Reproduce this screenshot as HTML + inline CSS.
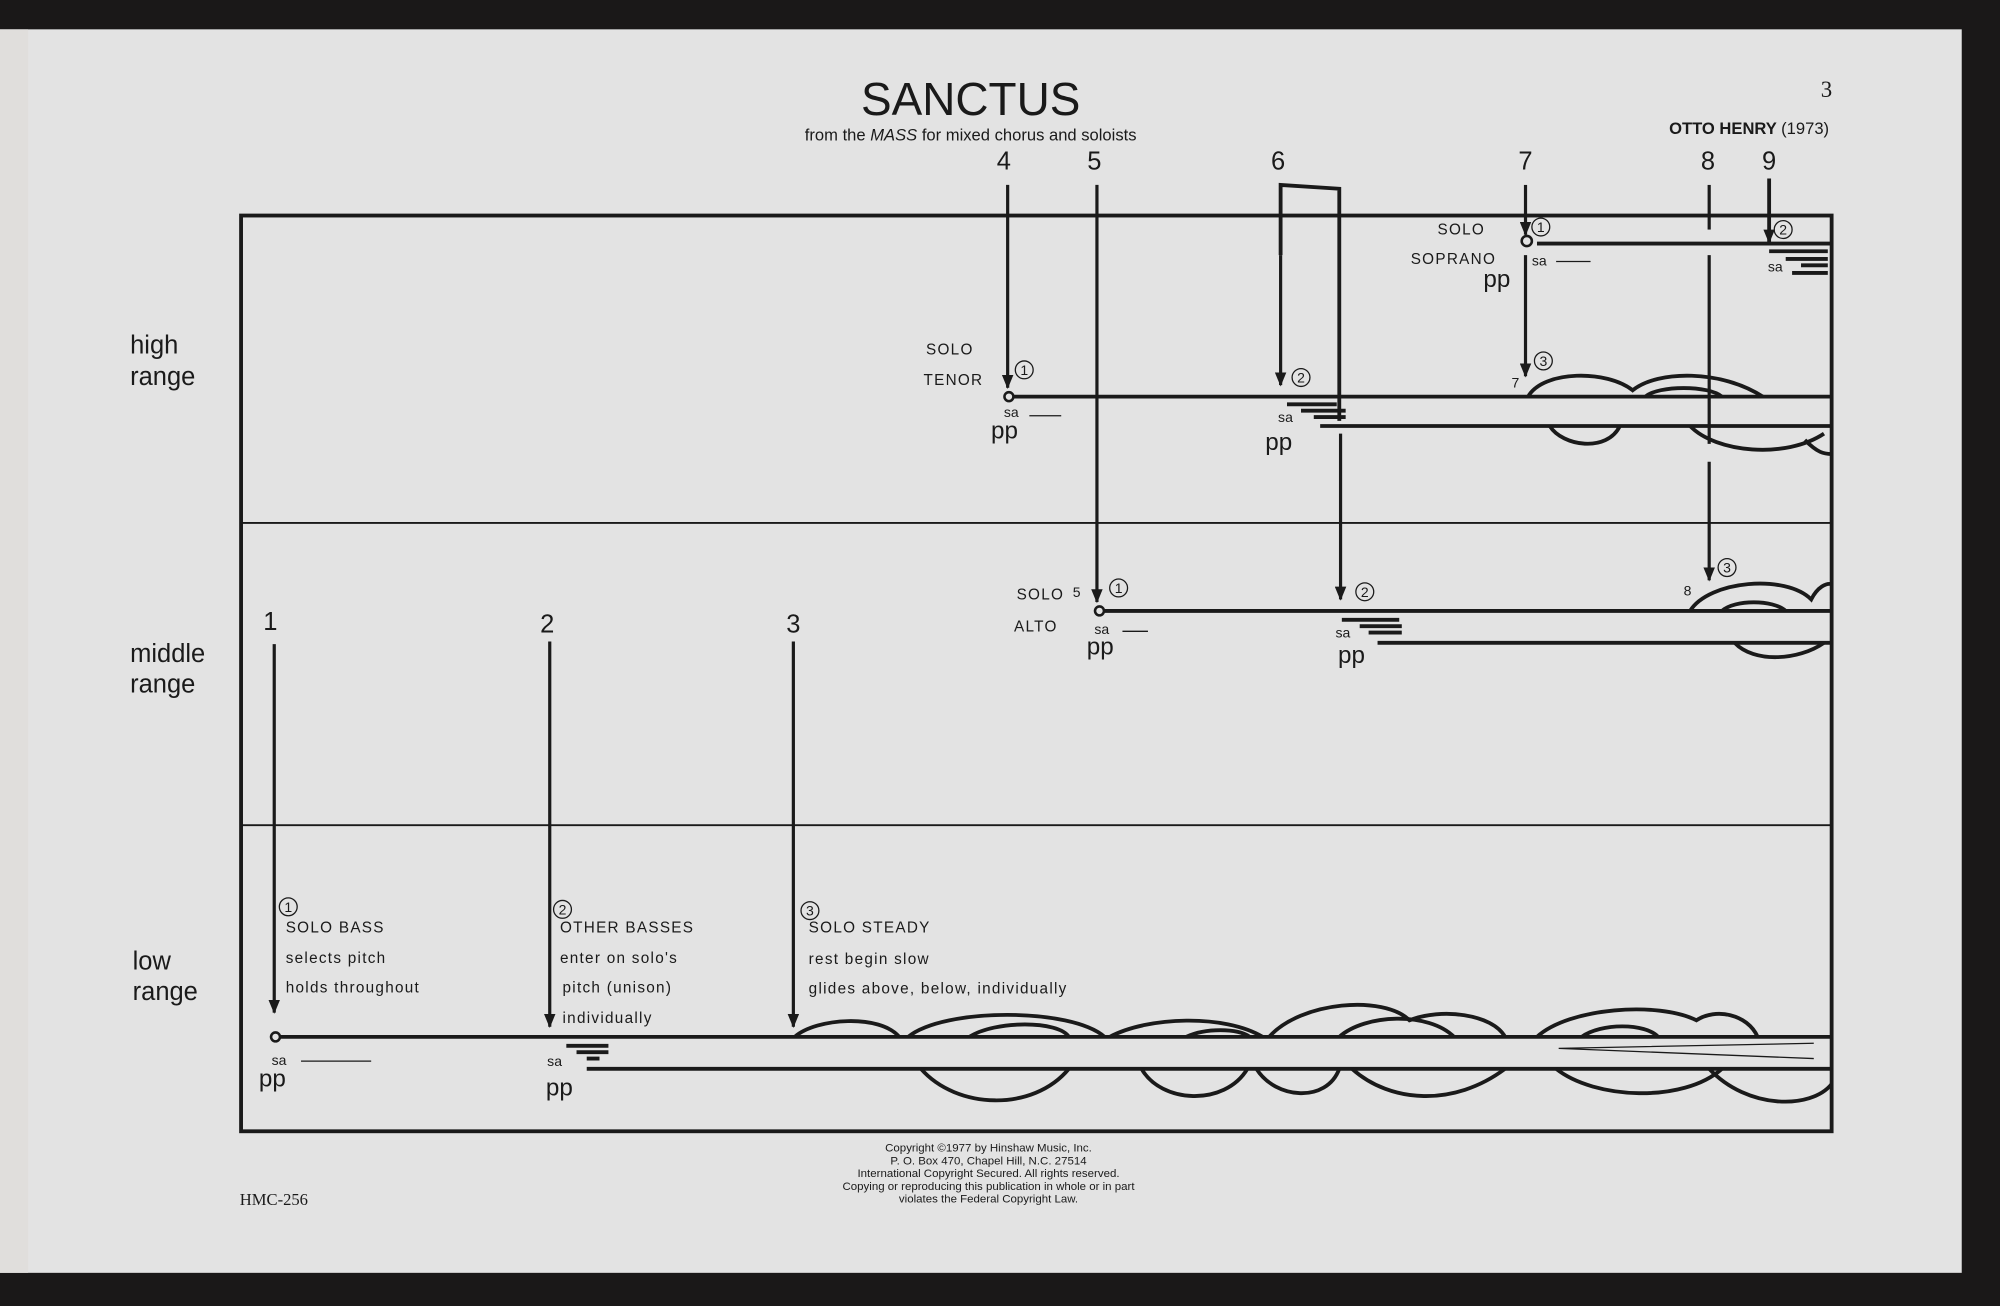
<!DOCTYPE html>
<html><head><meta charset="utf-8"><style>
html,body{margin:0;padding:0;background:#1a1818;}
svg{display:block;}
text{font-family:"Liberation Sans",sans-serif;fill:#1a1a1a;}
</style></head><body>
<svg width="2000" height="1306" viewBox="0 0 1568 1024" preserveAspectRatio="none" xmlns="http://www.w3.org/2000/svg">
<defs><marker id="a" markerWidth="11" markerHeight="9" refX="10" refY="4.5" orient="auto" markerUnits="userSpaceOnUse"><path d="M0,0 L11,4.5 L0,9 Z" fill="#1a1a1a"/></marker></defs>
<rect x="0" y="0" width="1568" height="1024" fill="#1a1818"/>
<rect x="0" y="23" width="1538" height="975" fill="#e3e3e3"/>
<rect x="0" y="23" width="22" height="975" fill="#e0dedc"/>
<g stroke="#1a1a1a" fill="none">
<rect x="189" y="169" width="1247" height="718" stroke-width="3"/>
<line x1="189" y1="410" x2="1436" y2="410" stroke-width="1.5"/>
<line x1="189" y1="647" x2="1436" y2="647" stroke-width="1.5"/>
<g stroke-width="3">
<line x1="1205" y1="191" x2="1436" y2="191"/>
<line x1="795" y1="311" x2="1436" y2="311"/>
<line x1="1035" y1="334" x2="1436" y2="334"/>
<line x1="866" y1="479" x2="1436" y2="479"/>
<line x1="1080" y1="504" x2="1436" y2="504"/>
<line x1="220" y1="813" x2="1436" y2="813"/>
<line x1="460" y1="838" x2="1436" y2="838"/>
</g>
<circle cx="791" cy="311" r="3.5" stroke-width="2"/>
<circle cx="862" cy="479" r="3.5" stroke-width="2"/>
<circle cx="216" cy="813" r="3.5" stroke-width="2"/>
<circle cx="1197" cy="189" r="4" stroke-width="2"/>
<g stroke-width="2.5">
<line x1="215" y1="505" x2="215" y2="794" marker-end="url(#a)"/>
<line x1="431" y1="503" x2="431" y2="805" marker-end="url(#a)"/>
<line x1="622" y1="503" x2="622" y2="805" marker-end="url(#a)"/>
<line x1="790" y1="145" x2="790" y2="304" marker-end="url(#a)"/>
<line x1="860" y1="145" x2="860" y2="472" marker-end="url(#a)"/>
<path d="M1004,200 L1004,145 L1050,148 L1050,330" stroke-width="3"/>
<line x1="1004" y1="200" x2="1004" y2="302" marker-end="url(#a)"/>
<line x1="1051" y1="340" x2="1051" y2="470" marker-end="url(#a)"/>
<line x1="1196" y1="145" x2="1196" y2="184" marker-end="url(#a)"/>
<line x1="1196" y1="200" x2="1196" y2="295" marker-end="url(#a)"/>
<line x1="1340" y1="145" x2="1340" y2="180"/>
<line x1="1340" y1="200" x2="1340" y2="348"/>
<line x1="1340" y1="362" x2="1340" y2="455" marker-end="url(#a)"/>
<line x1="1387" y1="140" x2="1387" y2="190" stroke-width="3" marker-end="url(#a)"/>
</g>
<g stroke-width="3">
<path d="M1009,317 H1048 M1020,322 H1055 M1030,327 H1055"/>
<path d="M1052,486 H1097 M1066,491 H1099 M1073,496 H1099"/>
<path d="M444,820 H477 M452,825 H477 M460,830 H470"/>
<path d="M1387,197 H1433 M1400,203 H1433 M1412,208 H1433 M1405,214 H1433"/>
</g>
<g stroke-width="3">
<path d="M623,813 C640,798 690,795 705,813"/>
<path d="M712,813 C740,790 840,790 866,813"/>
<path d="M760,813 C780,800 830,800 838,813"/>
<path d="M870,813 C900,797 960,795 990,813"/>
<path d="M930,813 C945,806 970,806 980,813"/>
<path d="M995,813 C1020,785 1085,780 1105,800 C1130,790 1170,795 1180,813"/>
<path d="M1050,813 C1070,795 1120,793 1140,813"/>
<path d="M1205,813 C1230,790 1300,785 1330,800 C1345,790 1370,795 1378,813"/>
<path d="M1240,813 C1255,802 1290,802 1300,813"/>
<path d="M722,838 C750,870 810,872 838,838"/>
<path d="M895,838 C910,865 960,868 978,838"/>
<path d="M985,838 C1000,862 1040,865 1050,838"/>
<path d="M1060,838 C1090,865 1140,868 1180,838"/>
<path d="M1220,838 C1250,862 1320,865 1350,838"/>
<path d="M1340,838 C1370,870 1420,870 1436,850"/>
<path d="M1198,311 C1210,290 1260,290 1280,306 C1300,290 1350,290 1382,311"/>
<path d="M1290,311 C1300,302 1340,302 1350,311"/>
<path d="M1215,334 C1225,350 1260,355 1270,334"/>
<path d="M1325,334 C1345,355 1400,360 1430,340"/>
<path d="M1415,345 C1425,355 1430,356 1436,356"/>
<path d="M1325,479 C1340,455 1400,450 1420,470 C1425,460 1432,457 1436,458"/>
<path d="M1350,479 C1360,470 1390,470 1400,479"/>
<path d="M1360,504 C1375,520 1410,518 1430,504"/>
</g>
<g stroke-width="1">
<path d="M1222,822 L1422,818 M1222,822 L1422,830"/>
<path d="M807,326 H832 M880,495 H900 M236,832 H291 M1220,205 H1247"/>
</g>
</g>
<g font-size="11" text-anchor="middle">
<g fill="none" stroke="#1a1a1a" stroke-width="1">
<circle cx="803" cy="290" r="7"/><circle cx="1020" cy="296" r="7"/><circle cx="1208" cy="178" r="7"/><circle cx="1398" cy="180" r="7"/><circle cx="1210" cy="283" r="7"/><circle cx="877" cy="461" r="7"/><circle cx="1070" cy="464" r="7"/><circle cx="1354" cy="445" r="7"/><circle cx="226" cy="711" r="7"/><circle cx="441" cy="713" r="7"/><circle cx="635" cy="714" r="7"/>
</g>
<text x="803" y="294">1</text><text x="1020" y="300">2</text><text x="1208" y="182">1</text><text x="1398" y="184">2</text><text x="1210" y="287">3</text><text x="877" y="465">1</text><text x="1070" y="468">2</text><text x="1354" y="449">3</text><text x="226" y="715">1</text><text x="441" y="717">2</text><text x="635" y="718">3</text>
</g>
<text x="761" y="90" font-size="36" text-anchor="middle">SANCTUS</text>
<text x="761" y="110" font-size="13" text-anchor="middle">from the <tspan font-style="italic">MASS</tspan> for mixed chorus and soloists</text>
<text x="1432" y="76" font-size="18" text-anchor="middle" style="font-family:'Liberation Serif'">3</text>
<text x="1434" y="105" font-size="13" text-anchor="end" font-weight="bold">OTTO HENRY <tspan font-weight="normal">(1973)</tspan></text>
<g font-size="20" text-anchor="middle">
<text x="787" y="133">4</text><text x="858" y="133">5</text><text x="1002" y="133">6</text><text x="1196" y="133">7</text><text x="1339" y="133">8</text><text x="1387" y="133">9</text>
<text x="212" y="494">1</text><text x="429" y="496">2</text><text x="622" y="496">3</text>
</g>
<g font-size="20">
<text x="102" y="277">high</text><text x="102" y="302">range</text>
<text x="102" y="519">middle</text><text x="102" y="543">range</text>
<text x="104" y="760">low</text><text x="104" y="784">range</text>
</g>
<g font-size="12" letter-spacing="1">
<text x="726" y="278">SOLO</text><text x="724" y="302">TENOR</text>
<text x="797" y="470">SOLO</text><text x="795" y="495">ALTO</text>
<text x="1127" y="184">SOLO</text><text x="1106" y="207">SOPRANO</text>
<text x="841" y="468" font-size="11">5</text><text x="1185" y="304" font-size="11">7</text><text x="1320" y="467" font-size="11">8</text>
<text x="224" y="731">SOLO BASS</text><text x="224" y="755">selects pitch</text><text x="224" y="778">holds throughout</text>
<text x="439" y="731">OTHER  BASSES</text><text x="439" y="755">enter on solo's</text><text x="441" y="778">pitch (unison)</text><text x="441" y="802">individually</text>
<text x="634" y="731">SOLO STEADY</text><text x="634" y="756">rest begin slow</text><text x="634" y="779">glides above, below, individually</text>
</g>
<g font-size="11">
<text x="787" y="327">sa</text><text x="1002" y="331">sa</text><text x="858" y="497">sa</text><text x="1047" y="500">sa</text><text x="1201" y="208">sa</text><text x="1386" y="213">sa</text><text x="213" y="835">sa</text><text x="429" y="836">sa</text>
</g>
<g font-size="19">
<text x="777" y="344">pp</text><text x="992" y="353">pp</text><text x="852" y="513">pp</text><text x="1049" y="520">pp</text><text x="1163" y="225">pp</text><text x="203" y="852">pp</text><text x="428" y="859">pp</text>
</g>
<g font-size="9" text-anchor="middle">
<text x="775" y="903">Copyright ©1977 by Hinshaw Music, Inc.</text>
<text x="775" y="913">P. O. Box 470, Chapel Hill, N.C. 27514</text>
<text x="775" y="923">International Copyright Secured. All rights reserved.</text>
<text x="775" y="933">Copying or reproducing this publication in whole or in part</text>
<text x="775" y="943">violates the Federal Copyright Law.</text>
</g>
<text x="188" y="945" font-size="13" style="font-family:'Liberation Serif'">HMC-256</text>
</svg>
</body></html>
